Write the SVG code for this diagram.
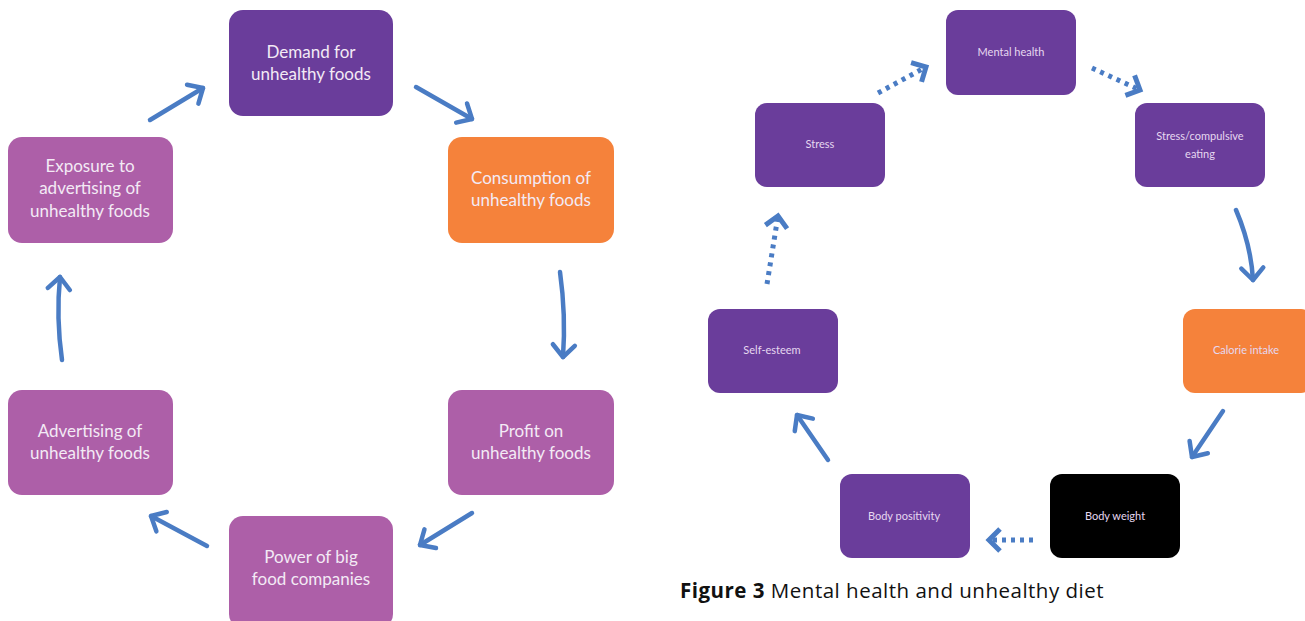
<svg xmlns="http://www.w3.org/2000/svg" width="1305" height="621" viewBox="0 0 1305 621">
<defs>
<style>
.purple{fill:#6a3d9b}
.magenta{fill:#ad5fa8}
.orange{fill:#f5823b}
.black{fill:#000}
.lt{font-family:Lato,"Open Sans",sans-serif;font-size:17px;fill:#f3eaf5;text-anchor:middle}
.rt{font-family:Lato,"Open Sans",sans-serif;font-size:11px;fill:#e6d8f0;text-anchor:middle}
.arr{fill:none;stroke:#4a7cc4;stroke-width:4.5;stroke-linecap:round}
.dot{fill:none;stroke:#4a7cc4;stroke-width:5;stroke-dasharray:4 5}
.cap{font-family:"Open Sans","Noto Sans",sans-serif;font-size:20.5px;letter-spacing:0.5px;fill:#111}
</style>
<marker id="ah" markerUnits="userSpaceOnUse" markerWidth="30" markerHeight="30" refX="15" refY="15" orient="auto" viewBox="0 0 30 30">
<path d="M3,4 L15,15 L3,26" fill="none" stroke="#4a7cc4" stroke-width="4.5" stroke-linecap="round" stroke-linejoin="round"/>
</marker>
<marker id="ahd" markerUnits="userSpaceOnUse" markerWidth="30" markerHeight="30" refX="15" refY="15" orient="auto" viewBox="0 0 30 30">
<path d="M4,4 L15,15 L4,26" fill="none" stroke="#4a7cc4" stroke-width="5" stroke-linecap="butt" stroke-linejoin="miter"/>
</marker>
</defs>
<rect width="1305" height="621" fill="#fff"/>

<g id="connectors">
<path class="arr" d="M150,120 L203,88" marker-end="url(#ah)"/>
<path class="arr" d="M416,87 L472,119" marker-end="url(#ah)"/>
<path class="arr" d="M560,272 Q566,315 563,357" marker-end="url(#ah)"/>
<path class="arr" d="M472,513 L420,545" marker-end="url(#ah)"/>
<path class="arr" d="M207,546 L151,516" marker-end="url(#ah)"/>
<path class="arr" d="M62,360 Q56,318 60,277" marker-end="url(#ah)"/>

<path class="dot" d="M878,93 L926,67" marker-end="url(#ahd)"/>
<path class="dot" d="M1092,68 L1140,90" marker-end="url(#ahd)"/>
<path class="arr" d="M1236,210 Q1251,245 1253,280" marker-end="url(#ah)"/>
<path class="arr" d="M1223,411 L1192,457" marker-end="url(#ah)"/>
<path class="dot" d="M1033,540 L989,540" marker-end="url(#ahd)"/>
<path class="arr" d="M828,460 L797,415" marker-end="url(#ah)"/>
<path class="dot" d="M767,284 L778,216" marker-end="url(#ahd)"/>
</g>

<g id="demand"><rect class="purple" x="229" y="10" width="164" height="106" rx="14"/><text class="lt" x="311" y="58">Demand for</text><text class="lt" x="311" y="80">unhealthy foods</text></g>
<g id="consumption"><rect class="orange" x="448" y="137" width="166" height="106" rx="14"/><text class="lt" x="531" y="184">Consumption of</text><text class="lt" x="531" y="206">unhealthy foods</text></g>
<g id="profit"><rect class="magenta" x="448" y="390" width="166" height="105" rx="14"/><text class="lt" x="531" y="437">Profit on</text><text class="lt" x="531" y="459">unhealthy foods</text></g>
<g id="power"><rect class="magenta" x="229" y="516" width="164" height="112" rx="14"/><text class="lt" x="311" y="563">Power of big</text><text class="lt" x="311" y="585">food companies</text></g>
<g id="advertising"><rect class="magenta" x="8" y="390" width="165" height="105" rx="14"/><text class="lt" x="90" y="437">Advertising of</text><text class="lt" x="90" y="459">unhealthy foods</text></g>
<g id="exposure"><rect class="magenta" x="8" y="137" width="165" height="106" rx="14"/><text class="lt" x="90" y="172">Exposure to</text><text class="lt" x="90" y="194">advertising of</text><text class="lt" x="90" y="217">unhealthy foods</text></g>

<g id="mental-health"><rect class="purple" x="946" y="10" width="130" height="85" rx="12"/><text class="rt" x="1011" y="56">Mental health</text></g>
<g id="stress-compulsive"><rect class="purple" x="1135" y="103" width="130" height="84" rx="12"/><text class="rt" x="1200" y="140">Stress/compulsive</text><text class="rt" x="1200" y="158">eating</text></g>
<g id="stress"><rect class="purple" x="755" y="103" width="130" height="84" rx="12"/><text class="rt" x="820" y="148">Stress</text></g>
<g id="calorie"><rect class="orange" x="1183" y="309" width="130" height="84" rx="12"/><text class="rt" x="1246" y="354">Calorie intake</text></g>
<g id="self-esteem"><rect class="purple" x="708" y="309" width="130" height="84" rx="12"/><text class="rt" x="772" y="354">Self-esteem</text></g>
<g id="body-weight"><rect class="black" x="1050" y="474" width="130" height="84" rx="12"/><text class="rt" x="1115" y="520">Body weight</text></g>
<g id="body-positivity"><rect class="purple" x="840" y="474" width="130" height="84" rx="12"/><text class="rt" x="904" y="520">Body positivity</text></g>

<text class="cap" x="680" y="598"><tspan font-weight="bold">Figure 3</tspan> Mental health and unhealthy diet</text>
</svg>
